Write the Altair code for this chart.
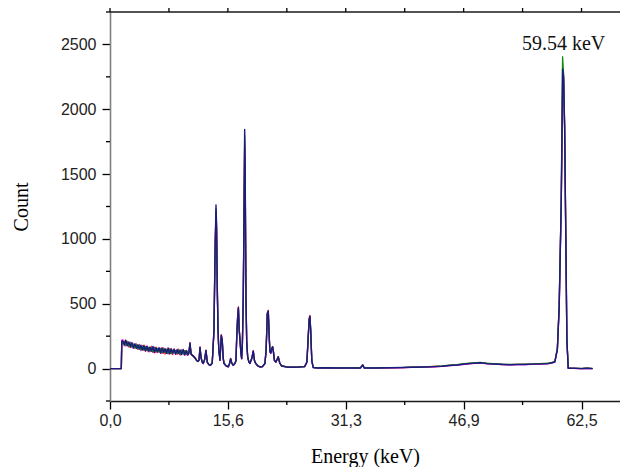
import altair as alt
import pandas as pd

# ---------------- data ----------------
energy_start = [0.0, 1.50, 1.56]
energy_noise = [1.7, 1.9, 2.1, 2.3, 2.5, 2.7, 2.9, 3.1, 3.3, 3.5,
                3.7, 3.9, 4.1, 4.3, 4.5, 4.7, 4.9, 5.1, 5.3, 5.5,
                5.7, 5.9, 6.1, 6.3, 6.5, 6.7, 6.9, 7.1, 7.3, 7.5,
                7.7, 7.9, 8.1, 8.3, 8.5, 8.7, 8.9, 9.1, 9.3, 9.5,
                9.7, 9.9, 10.1, 10.3]
energy_peaks = [10.45, 10.6, 10.75, 10.9, 11.05, 11.2, 11.35, 11.5, 11.65, 11.8,
                11.93, 12.05, 12.2, 12.36, 12.55, 12.72, 12.9, 13.1, 13.3, 13.55,
                13.78, 13.9, 13.97, 14.05, 14.12, 14.22, 14.32, 14.42, 14.58, 14.75,
                14.88, 15.0, 15.11, 15.4, 15.68, 15.85, 15.99, 16.15, 16.34, 16.55,
                16.7, 16.8, 16.92, 17.02, 17.12, 17.23, 17.35, 17.45, 17.55, 17.66,
                17.78, 17.85, 17.92, 18.02, 18.12, 18.25, 18.4, 18.55, 18.8, 18.99,
                19.15, 19.31, 19.6, 19.88, 20.2, 20.54, 20.7, 20.85, 20.98, 21.1,
                21.2, 21.32, 21.43, 21.55, 21.64, 21.8, 22.0, 22.3, 22.5, 22.75,
                23.4, 24.0, 25.0, 25.8, 26.1, 26.25, 26.4, 26.5, 26.6, 26.75,
                26.94, 27.5, 28.5, 30.0, 31.5, 33.2, 33.49, 33.7, 35.0, 37.0,
                38.9, 40.0, 41.5, 43.0, 44.0, 45.0, 46.0, 47.0, 48.0, 49.1,
                50.0, 51.0, 52.0, 53.0, 54.0, 55.0, 56.0, 57.0, 58.0, 58.6,
                58.97, 59.3, 59.54, 59.81, 59.99, 60.12, 60.26, 60.43, 60.56, 60.74,
                61.5, 62.5, 63.2, 63.97]

navy_start = [0, 0, 212]
navy_noise = [212, 184, 220, 176, 206, 170, 198, 160, 192, 156,
              184, 150, 180, 144, 175, 140, 171, 136, 166, 134,
              170, 128, 160, 130, 162, 122, 158, 125, 154, 118,
              159, 115, 149, 120, 151, 112, 147, 116, 143, 108,
              148, 110, 138, 107]
navy_peaks = [118, 198, 112, 104, 96, 88, 74, 62, 55, 66,
              165, 92, 52, 40, 72, 140, 48, 30, 25, 42,
              296, 800, 1030, 1262, 1120, 630, 300, 142, 64, 257,
              219, 82, 39, 20, 14, 40, 77, 40, 25, 40,
              62, 250, 398, 471, 300, 219, 120, 77, 200, 527,
              1300, 1845, 1500, 553, 200, 90, 52, 39, 80, 136,
              62, 39, 20, 12, 15, 39, 150, 425, 445, 250,
              130, 120, 150, 169, 140, 62, 50, 92, 42, 20,
              12, 10, 12, 15, 50, 219, 380, 404, 296, 60,
              8, 5, 6, 5, 5, 5, 28, 5, 4, 6,
              8, 10, 12, 15, 18, 24, 28, 35, 40, 45,
              38, 35, 32, 30, 31, 32, 34, 36, 38, 45,
              52, 150, 476, 1274, 2308, 2250, 1866, 939, 219, 2,
              2, 0, 3, 0]

green_start = [0, 0, 208]
green_noise = [190, 210, 178, 204, 172, 196, 164, 190, 158, 184,
               152, 180, 146, 175, 140, 172, 137, 164, 135, 162,
               128, 160, 132, 154, 125, 157, 119, 152, 124, 146,
               117, 150, 115, 144, 120, 138, 118, 142, 109, 140,
               113, 139, 107, 132]
green_peaks = [120, 190, 115, 100, 99, 85, 78, 60, 58, 62,
               158, 95, 55, 42, 68, 135, 50, 33, 27, 45,
               280, 760, 1000, 1230, 1080, 600, 290, 150, 68, 250,
               212, 85, 42, 22, 15, 38, 74, 42, 27, 38,
               60, 240, 390, 460, 310, 225, 125, 80, 190, 510,
               1250, 1800, 1480, 560, 210, 95, 55, 42, 78, 130,
               65, 42, 22, 14, 16, 40, 145, 418, 440, 255,
               135, 125, 148, 165, 138, 65, 52, 88, 45, 22,
               14, 12, 13, 16, 52, 210, 372, 398, 300, 62,
               9, 6, 7, 6, 6, 6, 26, 6, 5, 7,
               9, 12, 13, 17, 20, 27, 30, 38, 43, 48,
               41, 37, 34, 33, 33, 35, 36, 39, 41, 47,
               55, 160, 490, 1290, 2405, 2280, 1880, 950, 225, 3,
               2, 1, 3, 1]

magenta_start = [0, 0, 215]
magenta_noise = [222, 176, 210, 180, 198, 162, 202, 156, 186, 160,
                 150, 186, 139, 178, 168, 135, 175, 130, 162, 140,
                 125, 166, 123, 156, 148, 118, 162, 119, 147, 143,
                 112, 154, 118, 115, 146, 109, 141, 135, 105, 145,
                 116, 104, 140, 102]
magenta_peaks = [115, 185, 108, 101, 93, 90, 72, 64, 57, 64,
                 160, 88, 50, 38, 70, 138, 46, 31, 24, 40,
                 285, 780, 1010, 1150, 1090, 615, 295, 145, 62, 252,
                 215, 80, 40, 21, 13, 39, 75, 41, 24, 39,
                 61, 245, 392, 465, 305, 222, 118, 75, 195, 515,
                 1280, 1700, 1490, 548, 205, 88, 50, 40, 79, 133,
                 60, 40, 21, 13, 14, 38, 148, 420, 438, 248,
                 128, 118, 152, 166, 137, 60, 48, 90, 43, 21,
                 13, 11, 12, 15, 49, 215, 375, 400, 292, 58,
                 7, 5, 5, 4, 5, 4, 27, 5, 4, 5,
                 8, 10, 11, 14, 17, 23, 27, 33, 39, 44,
                 37, 34, 31, 29, 30, 31, 33, 35, 37, 44,
                 50, 145, 470, 1260, 2200, 2230, 1850, 930, 215, 2,
                 1, 0, 2, 0]

red_start = [0, 0, 218]
red_noise = [194, 212, 175, 209, 166, 203, 170, 185, 158, 190,
             148, 180, 152, 167, 181, 133, 165, 162, 130, 172,
             135, 122, 166, 123, 154, 149, 117, 160, 112, 150,
             123, 114, 155, 108, 145, 139, 110, 150, 107, 136,
             141, 102, 137, 133]
red_peaks = [122, 200, 110, 106, 95, 87, 76, 63, 56, 65,
             168, 90, 54, 41, 71, 142, 49, 31, 26, 43,
             300, 810, 1040, 1200, 1110, 640, 305, 144, 66, 262,
             222, 83, 40, 21, 14, 41, 78, 41, 26, 41,
             63, 255, 402, 476, 302, 220, 122, 78, 205, 530,
             1320, 1750, 1510, 555, 202, 92, 53, 40, 81, 138,
             63, 40, 21, 13, 15, 40, 152, 430, 450, 252,
             132, 122, 151, 170, 142, 63, 51, 93, 43, 21,
             13, 11, 13, 15, 51, 222, 390, 410, 300, 61,
             8, 5, 6, 5, 5, 5, 29, 5, 4, 6,
             8, 11, 12, 16, 19, 25, 29, 36, 42, 46,
             39, 36, 33, 31, 32, 33, 35, 37, 39, 46,
             53, 155, 480, 1280, 2020, 2260, 1870, 945, 222, 2,
             2, 0, 3, 0]

x_major = [0, 15.625, 31.25, 46.875, 62.5]
x_major_labels = ["0,0", "15,6", "31,3", "46,9", "62,5"]
x_minor = [7.8125, 23.4375, 39.0625, 54.6875]
y_major = [0, 500, 1000, 1500, 2000, 2500]
y_major_labels = ["0", "500", "1000", "1500", "2000", "2500"]
y_minor = [-250, 250, 750, 1250, 1750, 2250, 2750]

annot_x = [60.12]
annot_y = [2460]
annot_text = ["59.54 keV"]

x_domain = [0, 67.6]
y_domain = [-250, 2750]

W, H = 510, 389

# ---------------- build ----------------
energy = energy_start + energy_noise + energy_peaks


def series_df(start, noise, peaks):
    vals = start + noise + peaks
    return pd.DataFrame([{"e": e, "c": c} for e, c in zip(energy, vals)])


def label_expr(values, labels):
    expr = "''"
    for v, l in reversed(list(zip(values, labels))):
        expr = f"datum.value == {v} ? '{l}' : " + expr
    return expr


xscale = alt.Scale(domain=x_domain, nice=False, zero=False)
yscale = alt.Scale(domain=y_domain, nice=False, zero=False)

x_axis = alt.Axis(
    values=x_major,
    labelExpr=label_expr(x_major, x_major_labels),
    tickSize=8, tickColor="black", tickWidth=1.3,
    domainColor="#1a1a1a", domainWidth=1.6,
    labelFont="Liberation Sans", labelFontSize=16, labelColor="#222222",
    labelPadding=3, labelFlush=False, labelOverlap=False,
    title="Energy (keV)", titleFont="Liberation Serif", titleFontSize=20,
    titleFontWeight="normal", titleColor="black",
    titleX=W / 2, titleY=55, titleAlign="center", titleBaseline="middle",
    grid=False,
)
y_axis = alt.Axis(
    values=y_major,
    labelExpr=label_expr(y_major, y_major_labels),
    tickSize=8, tickColor="black", tickWidth=1.3,
    domainColor="#808080", domainWidth=1.6,
    labelFont="Liberation Sans", labelFontSize=16, labelColor="#222222",
    labelPadding=6, labelFlush=False, labelOverlap=False,
    title="Count", titleFont="Liberation Serif", titleFontSize=20,
    titleFontWeight="normal", titleColor="black",
    titleX=-89, titleY=H / 2, titleAngle=270, titleAlign="center",
    titleBaseline="middle",
    grid=False,
)


def X(field):
    return alt.X(field, scale=xscale, axis=x_axis)


def Y(field):
    return alt.Y(field, scale=yscale, axis=y_axis)


def line_layer(df, color, width):
    return alt.Chart(df).mark_line(
        color=color, strokeWidth=width, strokeJoin="round"
    ).encode(x=X("e:Q"), y=Y("c:Q"))


red = line_layer(series_df(red_start, red_noise, red_peaks), "#ff1a1a", 1.3)
magenta = line_layer(series_df(magenta_start, magenta_noise, magenta_peaks), "#e600e6", 1.3)
green = line_layer(series_df(green_start, green_noise, green_peaks), "#138a13", 1.3)
navy = line_layer(series_df(navy_start, navy_noise, navy_peaks), "#1a1a80", 1.4)

top_line = alt.Chart(pd.DataFrame({"a": [0]})).mark_rule(
    color="#1a1a1a", strokeWidth=1.6
).encode(x=alt.value(0), x2=alt.value(W), y=alt.value(0))

top_major = alt.Chart(pd.DataFrame({"t": x_major})).mark_rule(
    color="black", strokeWidth=1.3
).encode(x=X("t:Q"), y=alt.value(0), y2=alt.value(-8))

top_minor = alt.Chart(pd.DataFrame({"t": x_minor})).mark_rule(
    color="black", strokeWidth=1.3
).encode(x=X("t:Q"), y=alt.value(0), y2=alt.value(-4))

bottom_minor = alt.Chart(pd.DataFrame({"t": x_minor})).mark_rule(
    color="black", strokeWidth=1.3
).encode(x=X("t:Q"), y=alt.value(H), y2=alt.value(H + 4))

left_minor = alt.Chart(pd.DataFrame({"t": y_minor})).mark_rule(
    color="black", strokeWidth=1.3
).encode(y=Y("t:Q"), x=alt.value(0), x2=alt.value(-4))

annot = alt.Chart(pd.DataFrame({"x": annot_x, "y": annot_y, "t": annot_text})).mark_text(
    font="Liberation Serif", fontSize=20, color="#111111", align="center",
    baseline="alphabetic"
).encode(x=X("x:Q"), y=Y("y:Q"), text="t:N")

chart = alt.layer(
    red, magenta, green, navy, top_line, top_major, top_minor,
    bottom_minor, left_minor, annot
).properties(
    width=W, height=H,
    autosize=alt.AutoSizeParams(type="none"),
    padding={"left": 102, "top": 4, "right": 0, "bottom": 66},
).configure_view(stroke=None)

chart.save("out.html", embed_options={"renderer": "svg", "actions": False})
